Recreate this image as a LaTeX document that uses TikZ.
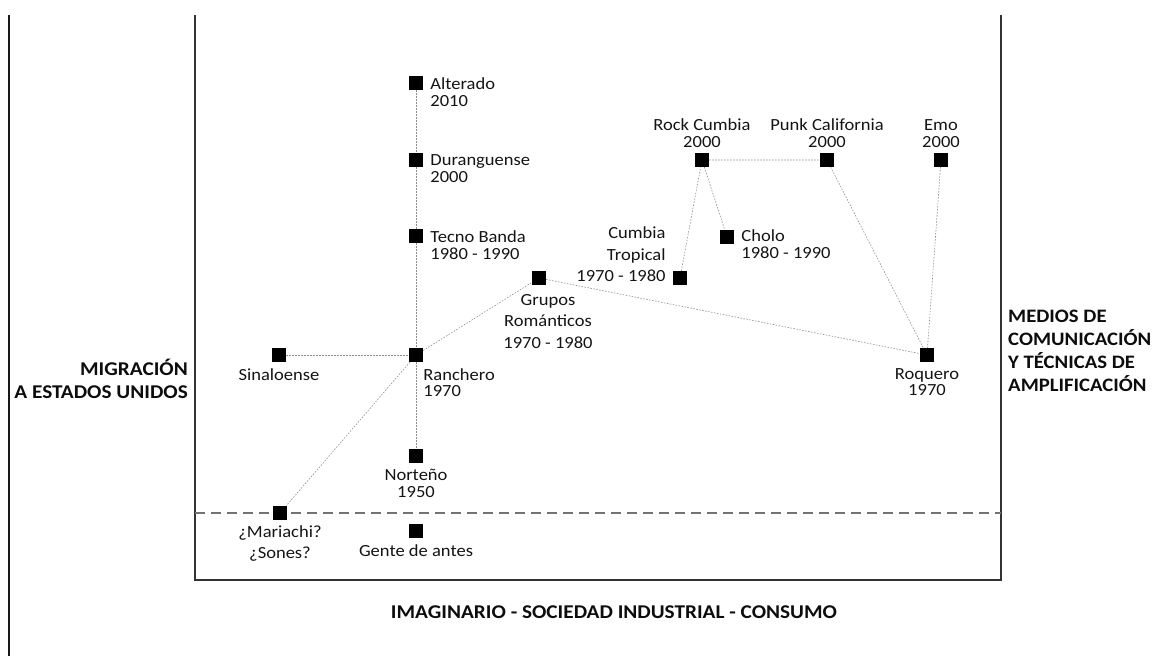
\documentclass[tikz,border=0pt]{standalone}
\usepackage{fontspec}
\setmainfont{Carlito}[FakeStretch=1.09]
\usetikzlibrary{positioning}

\begin{document}
\begin{tikzpicture}[x=1pt,y=-1pt,
  sq/.style={fill=black,minimum size=14pt,inner sep=0pt},
  txt/.style={font=\fontsize{17}{16.5}\selectfont,text=black!92,inner sep=0pt,align=center},
  wide/.style={txt,font=\fontsize{17}{21.5}\selectfont},
  lr/.style={txt,align=left,anchor=north west,xshift=7pt,yshift=-2pt},
  lb/.style={txt,anchor=north,yshift=-6pt},
  la/.style={txt,anchor=south,yshift=5pt},
  con/.style={draw=black!45,line width=0.6pt,dash pattern=on 1.5pt off 1.5pt},
  axis/.style={font=\bfseries\fontsize{19.5}{23}\selectfont,text=black!95,inner sep=0pt}]
\useasboundingbox (0,0) rectangle (1153,656);

% frame
\draw[line width=2pt,black!90] (9,15) -- (9,656);
\draw[line width=1.5pt,black!80] (195,15) -- (195,580) -- (1001,580) -- (1001,15);
\draw[black!55,line width=1.2pt,dash pattern=on 10pt off 6pt] (195,513) -- (1001,513);

% axis texts
\node[axis,align=right,anchor=base east] (mig) at (188,398) {MIGRACIÓN\\A ESTADOS UNIDOS};
\node[axis,font=\bfseries\fontsize{19}{23}\selectfont,align=left,anchor=base west] (med) at (1008,391) {MEDIOS DE\\COMUNICACIÓN\\Y TÉCNICAS DE\\AMPLIFICACIÓN};
\node[axis,anchor=base] (ima) at (614,618) {IMAGINARIO - SOCIEDAD INDUSTRIAL - CONSUMO};

% genres
\node[sq,label={[lr]north east:Alterado\\2010}] (alt) at (416,83) {};
\node[sq,label={[lr]north east:Duranguense\\2000}] (dur) at (416,160) {};
\node[sq,label={[lr]north east:Tecno Banda\\1980 - 1990}] (tec) at (416,236) {};
\node[sq,label={[lr,xshift=-7pt,yshift=-4pt]south east:Ranchero\\1970}] (ran) at (416,355) {};
\node[sq,label={[lb]south:Norteño\\1950}] (nor) at (416,456) {};
\node[sq,label={[lb]south:Gente de antes}] (gen) at (416,531) {};
\node[sq,label={[lb]south:Sinaloense}] (sin) at (279,355) {};
\node[sq,label={[wide,anchor=north,yshift=-5pt]south:¿Mariachi?\\¿Sones?}] (mar) at (280,513) {};
\node[sq,label={[wide,anchor=north,xshift=9pt,yshift=-9pt]south:Grupos\\Románticos\\1970 - 1980}] (gru) at (539,278) {};
\node[sq,label={[wide,align=right,anchor=south east,xshift=-7pt,yshift=3pt]south west:Cumbia\\Tropical\\1970 - 1980}] (cum) at (680,278) {};
\node[sq,label={[la]north:Rock Cumbia\\2000}] (roc) at (702,160) {};
\node[sq,label={[lr,yshift=2pt]north east:Cholo\\1980 - 1990}] (cho) at (727,237) {};
\node[sq,label={[la]north:Punk California\\2000}] (pun) at (827,160) {};
\node[sq,label={[la]north:Emo\\2000}] (emo) at (941,160) {};
\node[sq,label={[lb]south:Roquero\\1970}] (roq) at (927,355) {};

% links
\draw[con] (alt) -- (dur) -- (tec) -- (ran) -- (nor);
\draw[con] (sin) -- (ran);
\draw[con] (ran) -- (mar);
\draw[con] (ran) -- (gru) -- (roq);
\draw[con] (cum) -- (roc) -- (cho);
\draw[con] (roc) -- (pun) -- (roq);
\draw[con] (emo) -- (roq);
\end{tikzpicture}
\end{document}
